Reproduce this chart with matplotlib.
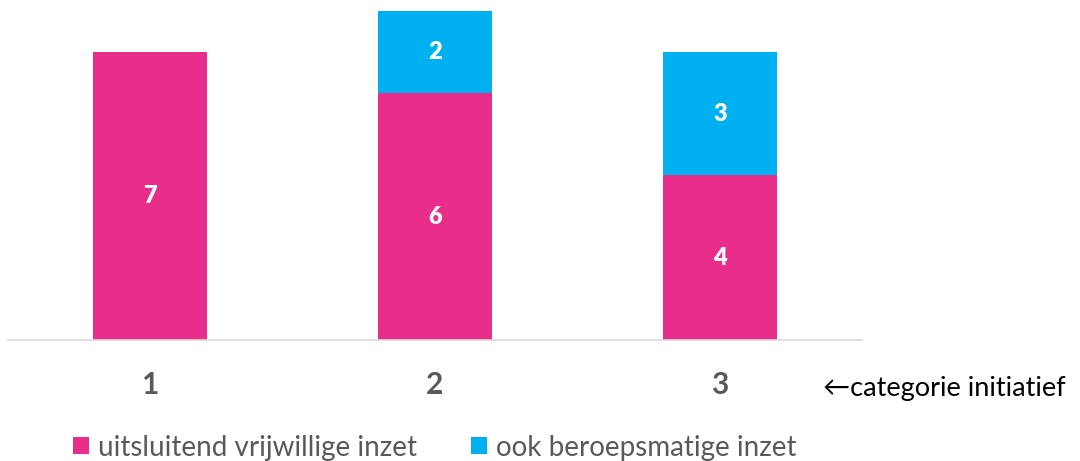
import matplotlib
matplotlib.use("Agg")
import matplotlib.pyplot as plt
import numpy as np

categories = ["1", "2", "3"]
vrijwillig = [7, 6, 4]
beroeps = [0, 2, 3]
series_names = ["uitsluitend vrijwillige inzet", "ook beroepsmatige inzet"]
axis_note = "←categorie initiatief"
colors = ["#E82D8A", "#00B0F0"]

FAM = ['Lato', 'DejaVu Sans']
plt.rcParams['font.family'] = FAM

W, H = 1080, 461
fig = plt.figure(figsize=(W / 100, H / 100), dpi=100)
renderer = fig.canvas.get_renderer()
PX = 100 / 72.0


def fit_size(text, target_px, weight='normal', start=16):
    t = fig.text(0, 0, text, fontsize=start, fontweight=weight, family=FAM)
    wpx = t.get_window_extent(renderer).width
    t.remove()
    return start * target_px / wpx


ax = fig.add_axes([7.5 / W, (H - 340) / H, 855 / W, 329 / H])

x = np.arange(len(categories))
w = 0.4
b1 = ax.bar(x, vrijwillig, width=w, color=colors[0], label=series_names[0])
b2 = ax.bar(x, beroeps, width=w, bottom=vrijwillig, color=colors[1], label=series_names[1])

for i in range(len(categories)):
    if vrijwillig[i]:
        ax.text(x[i], vrijwillig[i] / 2, str(vrijwillig[i]), ha='center', va='center',
                color='white', fontsize=17, fontweight='heavy')
    if beroeps[i]:
        ax.text(x[i], vrijwillig[i] + beroeps[i] / 2, str(beroeps[i]), ha='center', va='center',
                color='white', fontsize=17, fontweight='heavy')

ax.set_xlim(-0.5, 2.5)
ax.set_ylim(0, 8)
for s in ['top', 'right', 'left']:
    ax.spines[s].set_visible(False)
ax.spines['bottom'].set_color('#D9D9D9')
ax.spines['bottom'].set_linewidth(1.2)
ax.set_yticks([])
ax.set_xticks(x)
ax.set_xticklabels([])
ax.tick_params(axis='x', length=0)
tick_tf = matplotlib.transforms.blended_transform_factory(ax.transData, fig.transFigure)
for i, c in enumerate(categories):
    ax.text(x[i], 1 - 384.5 / H, c, transform=tick_tf, fontsize=21.5,
            fontweight='bold', color='#595959', ha='center', va='center')

note_size = fit_size(axis_note, 244)
fig.text(823 / W, 1 - 388 / H, axis_note, fontsize=note_size, color='black',
         ha='left', va='center', family=FAM)

leg_size = fit_size(series_names[0], 319)
em = leg_size * PX
leg = fig.legend(handles=[b1, b2], labels=series_names, loc='center left',
                 bbox_to_anchor=(73 / W, 1 - 447.5 / H), ncol=2, frameon=False,
                 fontsize=leg_size, handlelength=16 / em, handleheight=15 / em,
                 handletextpad=9 / em, columnspacing=54 / em, borderpad=0,
                 borderaxespad=0, labelcolor='#595959')

fig.savefig("out.png", dpi=100)
